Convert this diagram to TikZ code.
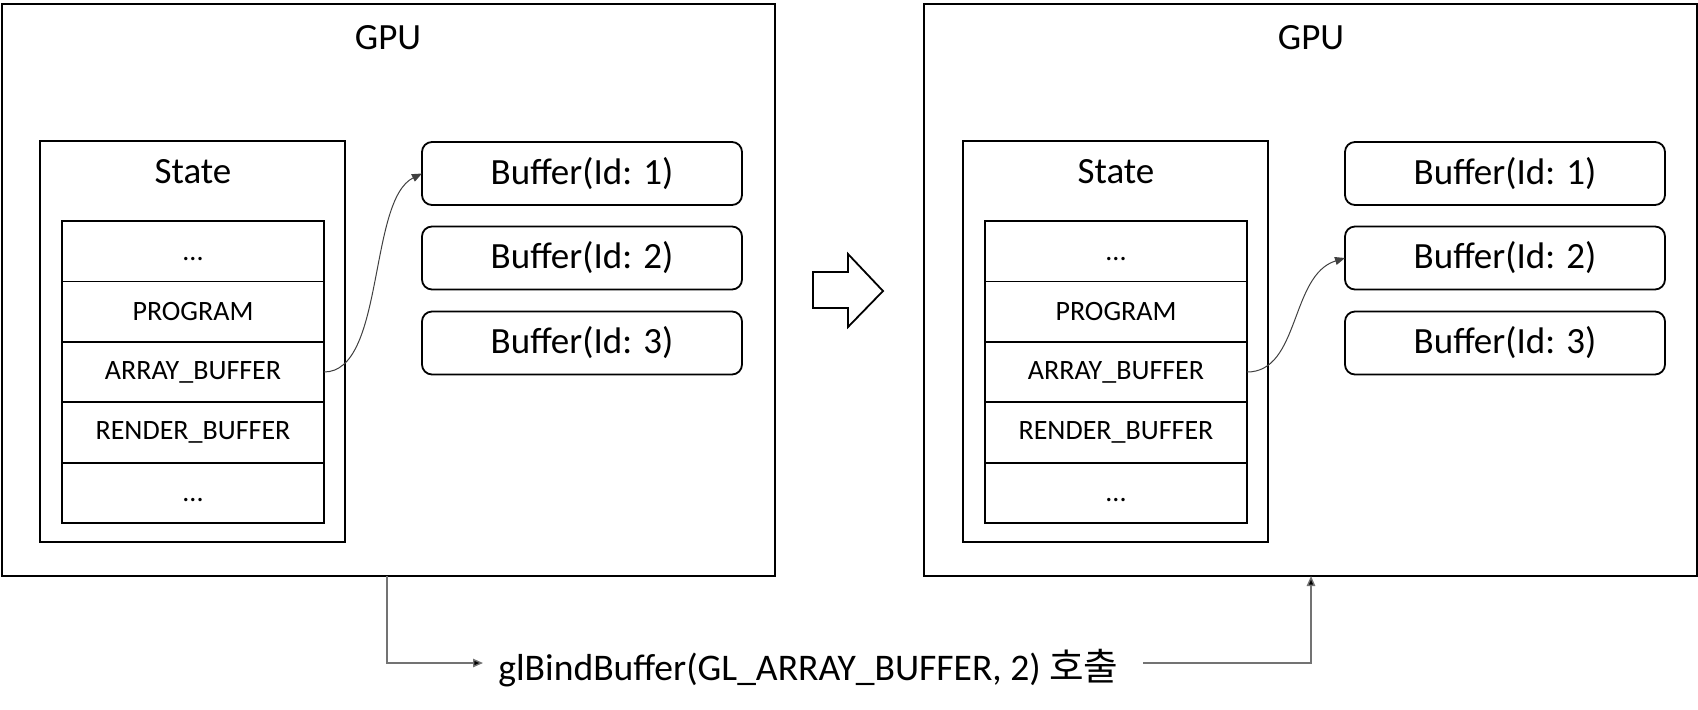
\documentclass[tikz,border=0pt]{standalone}
\usepackage{fontspec}
\setmainfont{Carlito}
\newfontfamily\kofont{Noto Sans CJK KR}
\usetikzlibrary{arrows.meta}
\begin{document}
\begin{tikzpicture}[x=0.5pt,y=-0.5pt,
  gpubox/.style={draw, line width=1pt, minimum width=386.5pt, minimum height=286pt, inner sep=0pt, outer sep=0pt},
  statebox/.style={draw, line width=0.9pt, minimum width=152.5pt, minimum height=200.5pt, inner sep=0pt, outer sep=0pt},
  cell/.style={draw, line width=0.9pt, minimum width=131pt, minimum height=30.2pt, inner sep=0pt, outer sep=0pt, font=\fontsize{14}{16}\selectfont},
  dotcell/.style={cell, text height=10pt, text depth=1pt},
  bufbox/.style={draw, line width=0.9pt, rounded corners=5pt, minimum width=160pt, minimum height=31.5pt, inner sep=0pt, outer sep=0pt, font=\fontsize{18.5}{22}\selectfont},
  title/.style={anchor=base, inner sep=0pt, font=\fontsize{18.5}{22}\selectfont},
  curve/.style={draw=black!75, line width=0.5pt, -{Triangle[length=5pt,width=4pt]}},
  conn/.style={draw=black!55, line width=0.7pt},
  connarrow/.style={conn, -{Triangle[length=5pt,width=4.2pt,fill=black]}},
  bigarrow/.style={draw, line width=0.9pt, fill=white, line join=miter}
]
\useasboundingbox (0,0) rectangle (1698,709);

% ---------- left GPU ----------
\node[gpubox] (gpuL) at (388,290) {};
\node[title] (gpuLt) at (388,49) {GPU};
\node[statebox] (stL) at (192.5,341.5) {};
\node[title] (stLt) at (193,183) {State};
\node[dotcell] (l1) at (193,251.2) {...};
\node[cell] (l2) at (193,311.6) {PROGRAM};
\node[cell] (l3) at (193,372) {ARRAY\_BUFFER};
\node[cell] (l4) at (193,432.4) {RENDER\_BUFFER};
\node[dotcell] (l5) at (193,492.8) {...};
\node[bufbox] (lb1) at (582,173.5) {Buffer(Id: 1)};
\node[bufbox] (lb2) at (582,258) {Buffer(Id: 2)};
\node[bufbox] (lb3) at (582,343) {Buffer(Id: 3)};
\draw[curve] (l3.east) .. controls (385,372) and (368,200) .. (lb1.west);

% ---------- right GPU ----------
\node[gpubox] (gpuR) at (1310.5,290) {};
\node[title] (gpuRt) at (1311,49) {GPU};
\node[statebox] (stR) at (1115.5,341.5) {};
\node[title] (stRt) at (1116,183) {State};
\node[dotcell] (r1) at (1116,251.2) {...};
\node[cell] (r2) at (1116,311.6) {PROGRAM};
\node[cell] (r3) at (1116,372) {ARRAY\_BUFFER};
\node[cell] (r4) at (1116,432.4) {RENDER\_BUFFER};
\node[dotcell] (r5) at (1116,492.8) {...};
\node[bufbox] (rb1) at (1505,173.5) {Buffer(Id: 1)};
\node[bufbox] (rb2) at (1505,258) {Buffer(Id: 2)};
\node[bufbox] (rb3) at (1505,343) {Buffer(Id: 3)};
\draw[curve] (r3.east) .. controls (1300,372) and (1290,275) .. (rb2.west);

% ---------- big hollow arrow ----------
\draw[bigarrow] (813,272) -- (848,272) -- (848,254) -- (883,291) -- (848,327) -- (848,308) -- (813,308) -- cycle;

% ---------- bottom call ----------
\node[anchor=base, inner sep=0pt, font=\fontsize{18.8}{22}\selectfont] (call) at (808.5,680) {glBindBuffer(GL\_ARRAY\_BUFFER, 2) {\kofont 호출}};
\coordinate (bl) at (387,663);
\coordinate (bla) at (483,663);
\coordinate (brs) at (1143,663);
\coordinate (br) at (1311,663);
\draw[connarrow] (gpuL.south -| bl) -- (bl) -- (bla);
\draw[connarrow] (brs) -- (br) -- (gpuR.south -| br);
\end{tikzpicture}
\end{document}
